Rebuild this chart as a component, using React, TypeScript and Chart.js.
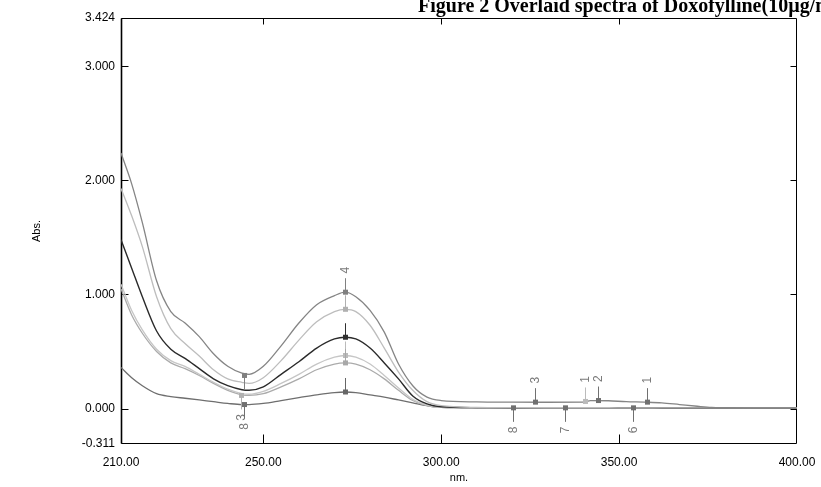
import React, { useEffect, useRef } from "react";
import { Chart, registerables } from "chart.js";
Chart.register(...registerables);

const titleText = "Figure 2 Overlaid spectra of Doxofylline(10µg/ml)";
const yTitle = "Abs.";
const xTitle = "nm.";

const wavelengths = [210, 213, 216, 220, 224, 228, 232, 236, 240, 244, 246, 250, 255, 260, 265, 270, 273, 276, 280, 284, 288, 292, 296, 300, 310, 320, 330, 340, 342, 347, 352, 357, 362, 367, 372, 376, 380, 390, 400];

const spectrum1 = [2.24, 1.97, 1.63, 1.12, 0.85, 0.75, 0.63, 0.48, 0.37, 0.31, 0.30, 0.37, 0.55, 0.75, 0.91, 0.99, 1.02, 0.98, 0.86, 0.67, 0.39, 0.20, 0.10, 0.07, 0.058, 0.056, 0.055, 0.056, 0.07, 0.068, 0.06, 0.056, 0.05, 0.035, 0.02, 0.01, 0.008, 0.006, 0.005];
const spectrum2 = [1.93, 1.69, 1.42, 0.98, 0.70, 0.57, 0.46, 0.34, 0.26, 0.23, 0.22, 0.27, 0.42, 0.60, 0.76, 0.85, 0.87, 0.85, 0.73, 0.53, 0.32, 0.16, 0.06, 0.025, 0.01, 0.008, 0.007, 0.007, 0.007, 0.007, 0.006, 0.006, 0.006, 0.006, 0.005, 0.005, 0.005, 0.005, 0.005];
const spectrum3 = [1.48, 1.23, 0.98, 0.68, 0.52, 0.44, 0.35, 0.26, 0.20, 0.165, 0.16, 0.19, 0.30, 0.41, 0.53, 0.61, 0.625, 0.61, 0.53, 0.40, 0.26, 0.11, 0.04, 0.015, 0.008, 0.007, 0.007, 0.006, 0.006, 0.006, 0.006, 0.006, 0.005, 0.005, 0.005, 0.005, 0.005, 0.005, 0.005];
const spectrum4 = [1.09, 0.86, 0.69, 0.52, 0.42, 0.37, 0.30, 0.23, 0.17, 0.13, 0.125, 0.15, 0.22, 0.30, 0.39, 0.45, 0.465, 0.45, 0.39, 0.29, 0.18, 0.08, 0.03, 0.01, 0.007, 0.007, 0.006, 0.006, 0.006, 0.006, 0.006, 0.005, 0.005, 0.005, 0.005, 0.005, 0.005, 0.005, 0.005];
const spectrum5 = [1.05, 0.82, 0.66, 0.50, 0.40, 0.35, 0.29, 0.22, 0.16, 0.12, 0.115, 0.13, 0.19, 0.26, 0.34, 0.39, 0.40, 0.39, 0.34, 0.26, 0.16, 0.07, 0.025, 0.01, 0.007, 0.006, 0.006, 0.006, 0.006, 0.006, 0.005, 0.005, 0.005, 0.005, 0.005, 0.005, 0.005, 0.005, 0.005];
const spectrum6 = [0.36, 0.27, 0.20, 0.13, 0.105, 0.09, 0.075, 0.06, 0.045, 0.035, 0.035, 0.045, 0.07, 0.095, 0.12, 0.14, 0.145, 0.14, 0.12, 0.10, 0.075, 0.05, 0.025, 0.01, 0.007, 0.006, 0.006, 0.006, 0.006, 0.006, 0.005, 0.005, 0.005, 0.005, 0.005, 0.005, 0.005, 0.005, 0.005];

const seriesValues = [spectrum1, spectrum2, spectrum3, spectrum4, spectrum5, spectrum6];
const seriesColors = ["#858585", "#bdbdbd", "#2a2a2a", "#c6c6c6", "#ababab", "#6e6e6e"];

const xTickValues = [210, 250, 300, 350, 400];
const yTickValues = [-0.311, 0, 1, 2, 3, 3.424];

// peak / valley picks: wavelength, absorbance, label, direction (1 = label above, -1 = label below)
const pickNm = [273, 273, 273, 273, 273, 273, 326.4, 340.4, 344.1, 357.9, 244.5, 243.8, 244.5, 320.2, 334.8, 353.9];
const pickAbs = [1.02, 0.87, 0.625, 0.465, 0.40, 0.145, 0.056, 0.062, 0.07, 0.056, 0.29, 0.115, 0.035, 0.006, 0.006, 0.006];
const pickLabels = ["4", "", "", "", "", "", "3", "1", "2", "1", "", "3", "8", "8", "7", "6"];
const pickDir = [1, 1, 1, 1, 1, 1, 1, 1, 1, 1, -1, -1, -1, -1, -1, -1];
const pickColors = ["#808080", "#b0b0b0", "#303030", "#bbbbbb", "#a8a8a8", "#666666", "#707070", "#bbbbbb", "#707070", "#707070", "#808080", "#b0b0b0", "#707070", "#707070", "#707070", "#707070"];

const SANS = '"Liberation Sans", Arial, sans-serif';

const decorPlugin = {
  id: "decor",
  beforeDatasetsDraw(chart: any) {
    const { ctx, chartArea, scales } = chart;
    const { left, right, top, bottom } = chartArea;
    const x = scales.x;
    const y = scales.y;
    ctx.save();
    ctx.strokeStyle = "#000";
    ctx.lineWidth = 1;
    const L = Math.round(left) + 0.5;
    const R = Math.round(right) - 0.5;
    const T = Math.round(top) + 0.5;
    const B = Math.round(bottom) - 0.5;
    ctx.beginPath();
    ctx.rect(L, T, R - L, B - T);
    ctx.stroke();
    ctx.lineWidth = 1.6;
    ctx.beginPath();
    ctx.moveTo(L, T);
    ctx.lineTo(L, B);
    ctx.stroke();
    ctx.lineWidth = 1;
    ctx.beginPath();
    y.ticks.forEach((t: any) => {
      if (t.value <= y.min || t.value >= y.max) return;
      const py = Math.round(y.getPixelForValue(t.value)) + 0.5;
      ctx.moveTo(L, py);
      ctx.lineTo(L + 7, py);
      ctx.moveTo(R, py);
      ctx.lineTo(R - 6, py);
    });
    x.ticks.forEach((t: any) => {
      if (t.value <= x.min || t.value >= x.max) return;
      const px = Math.round(x.getPixelForValue(t.value)) + 0.5;
      ctx.moveTo(px, B);
      ctx.lineTo(px, B - 9);
      ctx.moveTo(px, T);
      ctx.lineTo(px, T + 6);
    });
    ctx.stroke();
    ctx.restore();
  },
  afterDatasetsDraw(chart: any) {
    const { ctx, scales } = chart;
    const x = scales.x;
    const y = scales.y;
    ctx.save();
    for (let i = 0; i < pickNm.length; i++) {
      const px = Math.round(x.getPixelForValue(pickNm[i])) + 0.5;
      const py = y.getPixelForValue(pickAbs[i]);
      const d = pickDir[i];
      ctx.strokeStyle = pickColors[i];
      ctx.fillStyle = pickColors[i];
      ctx.lineWidth = 1;
      ctx.beginPath();
      ctx.moveTo(px, py);
      ctx.lineTo(px, py - d * 14);
      ctx.stroke();
      ctx.fillRect(px - 2.5, py - 2.5, 5, 5);
      if (pickLabels[i]) {
        ctx.save();
        ctx.translate(px, py - d * 22);
        ctx.rotate(-Math.PI / 2);
        ctx.font = `12px ${SANS}`;
        ctx.fillStyle = "#7a7a7a";
        ctx.textAlign = "center";
        ctx.textBaseline = "middle";
        ctx.fillText(pickLabels[i], 0, 0);
        ctx.restore();
      }
    }
    ctx.restore();
  },
  afterDraw(chart: any) {
    const { ctx, chartArea } = chart;
    const { left, right, top, bottom } = chartArea;
    ctx.save();
    ctx.fillStyle = "#000";
    ctx.font = 'bold 20px "Liberation Serif", "Times New Roman", serif';
    ctx.textAlign = "left";
    ctx.textBaseline = "alphabetic";
    ctx.fillText(titleText, 418, 12);

    ctx.font = `11px ${SANS}`;
    ctx.textAlign = "center";
    ctx.textBaseline = "middle";
    ctx.fillText(xTitle, (left + right) / 2, 478);
    ctx.translate(37, (top + bottom) / 2);
    ctx.rotate(-Math.PI / 2);
    ctx.fillText(yTitle, 0, 0);
    ctx.restore();
  },
};

export default function App() {
  const canvasRef = useRef<HTMLCanvasElement | null>(null);

  useEffect(() => {
    document.body.style.margin = "0";
    const canvas = canvasRef.current;
    if (!canvas) return;
    const datasets = seriesValues.map((vals, i) => ({
      label: `Spectrum ${i + 1}`,
      data: wavelengths.map((w, j) => ({ x: w, y: vals[j] })),
      borderColor: seriesColors[i],
      backgroundColor: seriesColors[i],
      borderWidth: i === 2 ? 1.4 : 1.3,
      pointRadius: 0,
      fill: false,
      cubicInterpolationMode: "monotone" as const,
    }));
    const chart = new Chart(canvas, {
      type: "line",
      data: { datasets },
      options: {
        responsive: false,
        animation: false,
        layout: { padding: { left: 0, right: 24, top: 18, bottom: 0 } },
        plugins: { legend: { display: false }, tooltip: { enabled: false }, title: { display: false } },
        scales: {
          x: {
            type: "linear",
            min: 210,
            max: 400,
            afterBuildTicks: (s: any) => {
              s.ticks = xTickValues.map((v) => ({ value: v }));
            },
            afterFit: (s: any) => {
              s.height = 43;
              s.paddingLeft = 0;
              s.paddingRight = 0;
            },
            ticks: {
              callback: (v: any) => Number(v).toFixed(2),
              font: { family: SANS, size: 12 },
              color: "#000",
              padding: 11,
              maxRotation: 0,
              autoSkip: false,
            },
            grid: { display: false, drawTicks: false },
            border: { display: false },
          },
          y: {
            type: "linear",
            min: -0.311,
            max: 3.424,
            afterBuildTicks: (s: any) => {
              s.ticks = yTickValues.map((v) => ({ value: v }));
            },
            afterFit: (s: any) => {
              s.width = 121;
              s.paddingTop = 0;
              s.paddingBottom = 0;
            },
            ticks: {
              callback: (v: any) => Number(v).toFixed(3),
              font: { family: SANS, size: 12 },
              color: "#000",
              padding: 6,
              autoSkip: false,
            },
            grid: { display: false, drawTicks: false },
            border: { display: false },
          },
        },
      },
      plugins: [decorPlugin],
    });
    return () => chart.destroy();
  }, []);

  return (
    <div style={{ width: 821, height: 487, background: "#fff" }}>
      <canvas ref={canvasRef} width={821} height={487} style={{ display: "block" }} />
    </div>
  );
}
